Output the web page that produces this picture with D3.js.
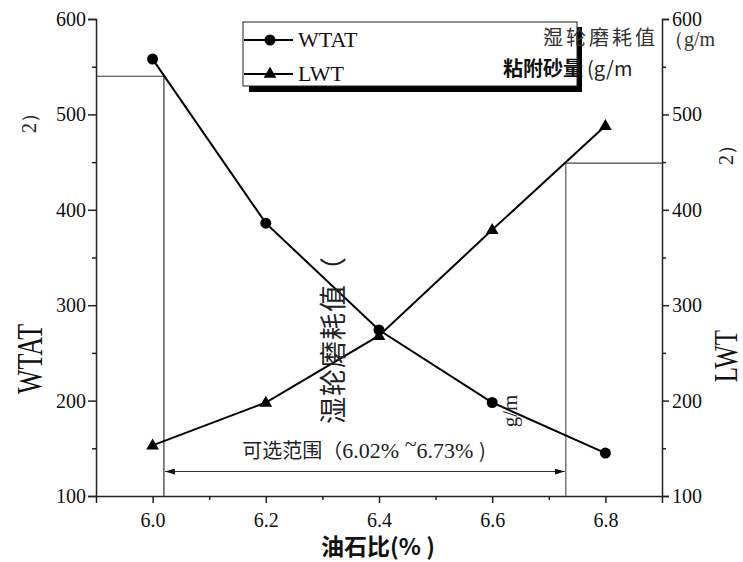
<!DOCTYPE html>
<html>
<head>
<meta charset="utf-8">
<script src="https://cdn.jsdelivr.net/npm/d3@7"></script>
<style>
  html, body { margin: 0; padding: 0; background: #fff; }
  svg { display: block; }
  .axis path, .axis line { stroke: #222; stroke-width: 1.5; }
</style>
</head>
<body>
<div id="chart"></div>
<script>
// 油石比 (%) on the x axis
const oilRatio = [6.0, 6.2, 6.4, 6.6, 6.8];
// 湿轮磨耗值 WTAT (g/m²), left axis
const wtat = [558, 386, 274, 198, 145];
// 粘附砂量 LWT (g/m²), right axis
const lwt = [153, 198, 268, 379, 488];

// acceptable oil-ratio window and the levels that bound it
const rangeBounds = [6.02, 6.73];
const wtatLimit = 540;
const lwtLimit = 449;

const xMajorTicks = [6.0, 6.2, 6.4, 6.6, 6.8];
const xMinorTicks = [6.1, 6.3, 6.5, 6.7];
const yMajorTicks = [100, 200, 300, 400, 500, 600];
const yMinorTicks = [150, 250, 350, 450, 550];

const W = 743, H = 562;
const svg = d3.select("#chart").append("svg").attr("width", W).attr("height", H);

const x = d3.scaleLinear().domain([5.9, 6.9]).range([96, 662]);
const yL = d3.scaleLinear().domain([100, 600]).range([496, 19]);
const yR = d3.scaleLinear().domain([100, 600]).range([496, 19]);

const serif = '"Liberation Serif", "DejaVu Serif", serif';
const cjk = '"Noto Sans CJK SC", "Noto Sans", sans-serif';

function styleTicks(g) {
  g.attr("font-family", serif).attr("font-size", 20);
  g.selectAll(".tick text").attr("font-family", serif).attr("font-size", 20).attr("fill", "#111");
}

// ---- axes ----
const gx = svg.append("g").attr("class", "axis").attr("transform", `translate(0,${yL.range()[0]})`);
gx.call(d3.axisBottom(x).tickValues(xMajorTicks).tickSize(7).tickPadding(10).tickFormat(d3.format(".1f")));
styleTicks(gx);
svg.append("g").attr("class", "axis").attr("transform", `translate(0,${yL.range()[0]})`)
  .call(d3.axisBottom(x).tickValues(xMinorTicks).tickSize(4).tickFormat(""))
  .select(".domain").remove();

const gl = svg.append("g").attr("class", "axis").attr("transform", `translate(${x.range()[0]},0)`);
gl.call(d3.axisLeft(yL).tickValues(yMajorTicks).tickSize(8).tickPadding(2));
styleTicks(gl);
svg.append("g").attr("class", "axis").attr("transform", `translate(${x.range()[0]},0)`)
  .call(d3.axisLeft(yL).tickValues(yMinorTicks).tickSize(4).tickFormat(""))
  .select(".domain").remove();

const gr = svg.append("g").attr("class", "axis").attr("transform", `translate(${x.range()[1]},0)`);
gr.call(d3.axisRight(yR).tickValues(yMajorTicks).tickSize(7).tickPadding(3));
styleTicks(gr);
svg.append("g").attr("class", "axis").attr("transform", `translate(${x.range()[1]},0)`)
  .call(d3.axisRight(yR).tickValues(yMinorTicks).tickSize(4).tickFormat(""))
  .select(".domain").remove();

// ---- window reference lines ----
const ref = svg.append("g");
ref.append("line")
  .attr("x1", x.range()[0]).attr("x2", x(rangeBounds[0]))
  .attr("y1", yL(wtatLimit)).attr("y2", yL(wtatLimit))
  .attr("stroke", "#333").attr("stroke-width", 1);
ref.append("line")
  .attr("x1", x(rangeBounds[0])).attr("x2", x(rangeBounds[0]))
  .attr("y1", yL(wtatLimit)).attr("y2", yL.range()[0])
  .attr("stroke", "#333").attr("stroke-width", 1.2);
ref.append("line")
  .attr("x1", x(rangeBounds[1])).attr("x2", x.range()[1])
  .attr("y1", yR(lwtLimit)).attr("y2", yR(lwtLimit))
  .attr("stroke", "#444").attr("stroke-width", 1.2);
ref.append("line")
  .attr("x1", x(rangeBounds[1])).attr("x2", x(rangeBounds[1]))
  .attr("y1", yR(lwtLimit)).attr("y2", yR.range()[0])
  .attr("stroke", "#777").attr("stroke-width", 1.5);

// double-headed arrow spanning the window
const defs = svg.append("defs");
defs.append("marker").attr("id", "arrowEnd").attr("viewBox", "0 0 10 6")
  .attr("refX", 10).attr("refY", 3).attr("markerWidth", 10).attr("markerHeight", 6)
  .attr("markerUnits", "userSpaceOnUse").attr("orient", "auto")
  .append("path").attr("d", "M0,0 L10,3 L0,6 Z").attr("fill", "#111");
defs.append("marker").attr("id", "arrowStart").attr("viewBox", "0 0 10 6")
  .attr("refX", 0).attr("refY", 3).attr("markerWidth", 10).attr("markerHeight", 6)
  .attr("markerUnits", "userSpaceOnUse").attr("orient", "auto")
  .append("path").attr("d", "M10,0 L0,3 L10,6 Z").attr("fill", "#111");
const arrowY = 471.5;
ref.append("line")
  .attr("x1", x(rangeBounds[0]) + 1).attr("x2", x(rangeBounds[1]) - 1)
  .attr("y1", arrowY).attr("y2", arrowY)
  .attr("stroke", "#333").attr("stroke-width", 1.2)
  .attr("marker-start", "url(#arrowStart)").attr("marker-end", "url(#arrowEnd)");

const rangeLabel = svg.append("text")
  .attr("x", 364).attr("y", 458)
  .attr("text-anchor", "middle").attr("font-size", 20).attr("fill", "#222");
rangeLabel.append("tspan").attr("font-family", cjk).attr("font-size", 20).text("可选范围（");
rangeLabel.append("tspan").attr("font-family", serif).attr("font-size", 22).text("6.02% ");
rangeLabel.append("tspan").attr("font-family", serif).attr("font-size", 22).attr("dy", -7).text("~");
rangeLabel.append("tspan").attr("font-family", serif).attr("font-size", 22).attr("dy", 7).text("6.73% ");
rangeLabel.append("tspan").attr("font-family", cjk).attr("font-size", 20).text(")");

// ---- series ----
const line = d3.line();
const wtatPts = oilRatio.map((d, i) => [x(d), yL(wtat[i])]);
const lwtPts = oilRatio.map((d, i) => [x(d), yR(lwt[i])]);

svg.append("path").attr("d", line(wtatPts)).attr("fill", "none").attr("stroke", "#000").attr("stroke-width", 2);
svg.append("path").attr("d", line(lwtPts)).attr("fill", "none").attr("stroke", "#000").attr("stroke-width", 2);

const circleSym = d3.symbol().type(d3.symbolCircle).size(95);
const triSym = d3.symbol().type(d3.symbolTriangle).size(70);

svg.selectAll(".wtatPt").data(wtatPts).join("path").attr("class", "wtatPt")
  .attr("transform", d => `translate(${d[0]},${d[1]})`).attr("d", circleSym).attr("fill", "#000");
svg.selectAll(".lwtPt").data(lwtPts).join("path").attr("class", "lwtPt")
  .attr("transform", d => `translate(${d[0]},${d[1] + 0.5})`).attr("d", triSym).attr("fill", "#000");

// ---- axis titles (tall serif lettering) ----
svg.append("text").attr("transform", "translate(42,359) rotate(-90) scale(1,1.4)")
  .attr("text-anchor", "middle").attr("font-family", serif).attr("font-size", 26).attr("fill", "#111").text("WTAT");
svg.append("text").attr("transform", "translate(737,356) rotate(-90) scale(1,1.35)")
  .attr("text-anchor", "middle").attr("font-family", serif).attr("font-size", 25).attr("fill", "#111").text("LWT");
svg.append("text").attr("transform", "translate(36,118) rotate(-90)")
  .attr("text-anchor", "middle").attr("font-family", serif).attr("font-size", 20).attr("fill", "#222").text("2）");
svg.append("text").attr("transform", "translate(733,150) rotate(-90)")
  .attr("text-anchor", "middle").attr("font-family", serif).attr("font-size", 20).attr("fill", "#222").text("2）");

svg.append("text").attr("x", 378).attr("y", 555).attr("text-anchor", "middle")
  .attr("font-family", cjk).attr("font-weight", "bold").attr("font-size", 23).attr("fill", "#111")
  .text("油石比(% )");

// vertical caption over the curves
svg.append("text").attr("transform", "translate(331,424) rotate(-90)")
  .attr("dominant-baseline", "central").attr("font-family", cjk).attr("font-size", 27)
  .attr("letter-spacing", 1).attr("fill", "#222").text("湿轮磨耗值（");
svg.append("text").attr("transform", "translate(510,411) rotate(-90)")
  .attr("text-anchor", "middle").attr("dominant-baseline", "central")
  .attr("font-family", serif).attr("font-size", 21).attr("fill", "#222").text("g/m");

// ---- legend ----
const lg = svg.append("g");
const box = { x: 243, y: 22, w: 334, h: 64 };
lg.append("rect").attr("x", box.x).attr("y", box.y).attr("width", box.w).attr("height", box.h).attr("fill", "#fff");

// captions printed across the legend area
svg.append("text").attr("x", 543).attr("y", 45).attr("font-family", cjk).attr("font-size", 20)
  .attr("letter-spacing", 3).attr("fill", "#333").text("湿轮磨耗值");
svg.append("text").attr("x", 544).attr("y", 39).attr("font-family", serif).attr("font-size", 14)
  .attr("fill", "#222").text("2");
svg.append("text").attr("x", 664).attr("y", 46).attr("font-family", serif).attr("font-size", 20)
  .attr("fill", "#333").text("（g/m");
svg.append("text").attr("x", 503).attr("y", 76).attr("font-family", cjk).attr("font-size", 20)
  .attr("font-weight", "bold").attr("fill", "#111").text("粘附砂量");
svg.append("text").attr("x", 587).attr("y", 76).attr("font-family", cjk).attr("font-size", 20)
  .attr("fill", "#222").text("(g/m");

// shadow and frame
lg.append("rect").attr("x", box.x + box.w).attr("y", box.y + 5).attr("width", 5).attr("height", box.h).attr("fill", "#000");
lg.append("rect").attr("x", box.x + 6).attr("y", box.y + box.h).attr("width", box.w - 1).attr("height", 6).attr("fill", "#000");
lg.append("rect").attr("x", box.x).attr("y", box.y).attr("width", box.w).attr("height", box.h)
  .attr("fill", "none").attr("stroke", "#222").attr("stroke-width", 1);

const legendItems = [
  { name: "WTAT", sym: circleSym, y: 40 },
  { name: "LWT", sym: triSym, y: 74 }
];
legendItems.forEach(it => {
  lg.append("line").attr("x1", box.x + 1).attr("x2", 293).attr("y1", it.y).attr("y2", it.y)
    .attr("stroke", "#000").attr("stroke-width", 2);
  lg.append("path").attr("transform", `translate(270,${it.y})`).attr("d", it.sym).attr("fill", "#000");
  lg.append("text").attr("x", 298).attr("y", it.y + 7).attr("font-family", serif).attr("font-size", 22)
    .attr("fill", "#111").text(it.name);
});
</script>
</body>
</html>
